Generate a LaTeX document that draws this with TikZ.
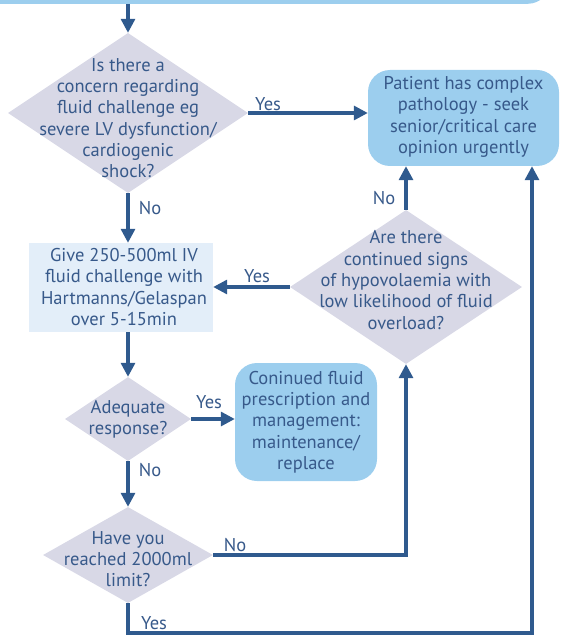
\documentclass[tikz,border=0pt]{standalone}
\usepackage{fontspec}
\setmainfont{PT Sans}
\usetikzlibrary{shapes.geometric,arrows.meta}
\definecolor{ln}{HTML}{2F5A8E}
\definecolor{tx}{HTML}{37598A}
\definecolor{dfill}{HTML}{D8D8E6}
\definecolor{bfill}{HTML}{9CCEEE}
\definecolor{lfill}{HTML}{E3EEF9}
\begin{document}
\begin{tikzpicture}[x=1pt,y=-1pt,
  txt/.style={font=\fontsize{18.5}{21.3}\selectfont, text=tx, align=center, inner sep=0},
  lbl/.style={font=\fontsize{18.5}{21.3}\selectfont, text=tx, inner sep=0},
  dia/.style={diamond, fill=dfill, inner sep=0},
  bbox/.style={rectangle, rounded corners=22pt, fill=bfill, inner sep=0},
  lbox/.style={rectangle, fill=lfill, inner sep=0},
  arr/.style={draw=ln, line width=3.2pt, -{Triangle[length=14pt,width=14pt]}}]
\useasboundingbox (0,0) rectangle (560,636);
\clip (0,0) rectangle (560,636);
% top box
\node[bbox, minimum width=620pt, minimum height=60pt, anchor=south east] (top) at (550,4) {};
% diamonds
\node[dia, minimum width=240pt, minimum height=160pt] (d1) at (128,113) {};
\node[txt] at (128,118) {Is there a\\concern regarding\\fluid challenge eg\\severe LV dysfunction/\\cardiogenic\\shock?};
\node[dia, minimum width=232pt, minimum height=154pt] (d2) at (406,287) {};
\node[txt] at (406,280) {Are there\\continued signs\\of hypovolaemia with\\low likelihood of fluid\\overload?};
\node[dia, minimum width=126pt, minimum height=84pt] (d3) at (128,419) {};
\node[txt] at (128,419) {Adequate\\response?};
\node[dia, minimum width=170pt, minimum height=96pt] (d4) at (128,555) {};
\node[txt] at (128,559) {Have you\\reached 2000ml\\limit?};
% boxes
\node[bbox, minimum width=191pt, minimum height=96pt] (pat) at (463.5,118) {};
\node[txt] at (463.5,117) {Patient has complex\\pathology - seek\\senior/critical care\\opinion urgently};
\node[lbox, minimum width=184pt, minimum height=89pt] (give) at (121,287.5) {};
\node[txt] at (124,287) {Give 250-500ml IV\\fluid challenge with\\Hartmanns/Gelaspan\\over 5-15min};
\node[bbox, minimum width=142pt, minimum height=118pt] (cont) at (306,422) {};
\node[txt] at (306,422) {Coninued fluid\\prescription and\\management:\\maintenance/\\replace};
% connectors
\draw[arr] (d1.north |- top.south) -- (d1.north);
\draw[arr] (d1.east) -- (d1.east -| pat.west);
\draw[arr] (d1.south) -- (d1.south |- give.north);
\draw[arr] (d2.west) -- (d2.west -| give.east);
\draw[arr] (d2.north) -- (d2.north |- pat.south);
\draw[arr] (give.south -| d3.north) -- (d3.north);
\draw[arr] (d3.east) -- (d3.east -| cont.west);
\draw[arr] (d3.south) -- (d4.north);
\draw[arr] (d4.east) -| (d2.south);
\coordinate (yc) at (532,633);
\draw[arr] (d4.south) |- (yc) -- (yc |- pat.south);
% labels
\node[lbl] at (268,104) {Yes};
\node[lbl] at (150,208) {No};
\node[lbl] at (257,276) {Yes};
\node[lbl] at (384,198) {No};
\node[lbl] at (209,402) {Yes};
\node[lbl] at (150,470) {No};
\node[lbl] at (235,545) {No};
\node[lbl] at (154,623) {Yes};
\end{tikzpicture}
\end{document}
